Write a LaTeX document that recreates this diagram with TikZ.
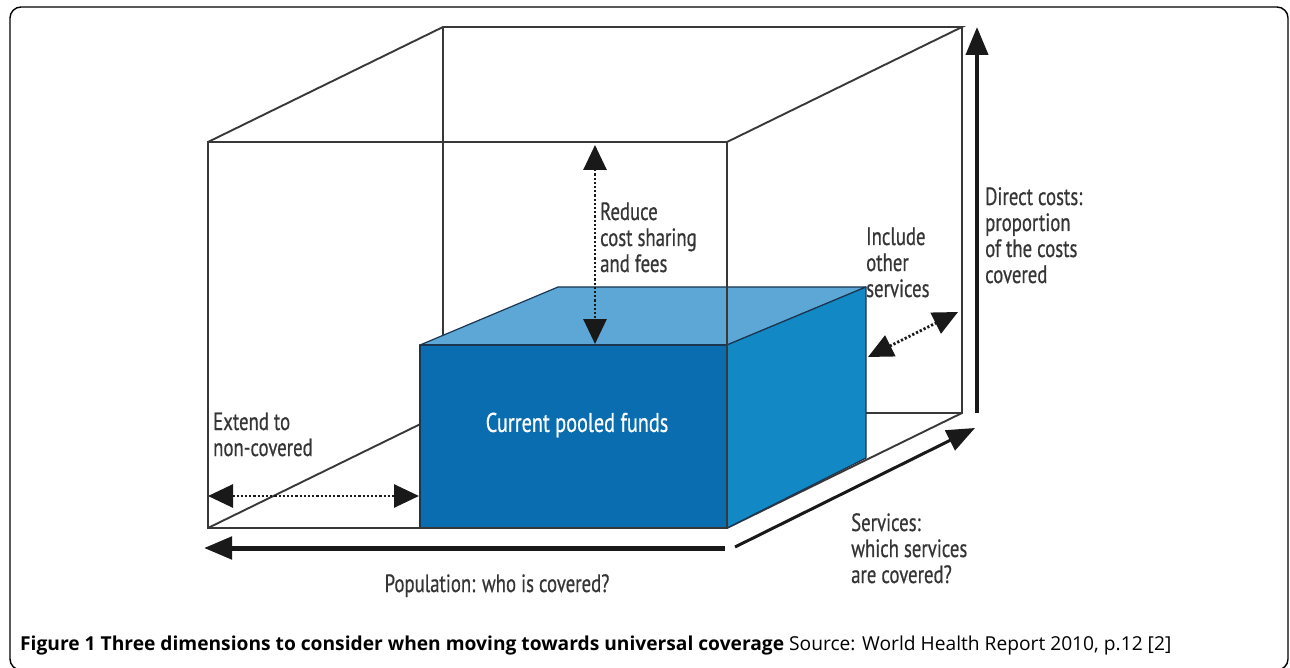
\documentclass[tikz,border=0pt]{standalone}
\usepackage{fontspec}
\setmainfont{Open Sans}
\newfontfamily\labelfont[FakeStretch=0.75,FakeBold=0.6]{PT Sans}
\usepackage{xcolor}
\usetikzlibrary{arrows.meta,positioning,calc}

\definecolor{boxfront}{HTML}{0A6DAF}
\definecolor{boxside}{HTML}{1289C5}
\definecolor{boxtop}{HTML}{5CA7D6}
\definecolor{edgedark}{HTML}{1C3550}
\definecolor{labelgrey}{HTML}{353535}

\tikzset{
  wire/.style={draw=black!78, line width=1.9pt},
  face/.style={draw=edgedark, line width=1.2pt, line join=round},
  bigarrow/.style={draw=black!90, line width=4pt, -{Triangle[length=28pt,width=22pt]}},
  dotarrow/.style={draw=black!90, line width=2.8pt, dash pattern=on 2.2pt off 2pt,
    {Triangle[length=25pt,width=23pt]}-{Triangle[length=25pt,width=23pt]}},
  lbl/.style={font=\labelfont\fontsize{25}{26}\selectfont, text=labelgrey,
    align=left, inner sep=0pt, anchor=base west}
}

\begin{document}
\begin{tikzpicture}[x=1pt,y=-1pt]
  \useasboundingbox (0,0) rectangle (1290,668);

  % Outer frame
  \draw[line width=1.4pt, rounded corners=11pt] (10,7) rectangle (1288,670);

  % Corners of the coverage cube
  \coordinate (b1) at (443,27);
  \coordinate (b2) at (962,27);
  \coordinate (b3) at (962,413);
  \coordinate (b4) at (443,413);
  \coordinate (f1) at (208,142);
  \coordinate (f2) at (727,142);
  \coordinate (f3) at (727,528);
  \coordinate (f4) at (208,528);

  % Corners of the pooled funds block
  \coordinate (p1) at (420,345);
  \coordinate (p2) at (727,345);
  \coordinate (p3) at (727,528);
  \coordinate (p4) at (420,528);
  \coordinate (q1) at (558,287);
  \coordinate (q2) at (866,287);
  \coordinate (q3) at (866,458);

  % Back edges of the cube
  \draw[wire] (f1) -- (b1) -- (b2) -- (f2);
  \draw[wire] (b1) -- (b4) -- (b3) -- (b2);
  \draw[wire] (f4) -- (b4);
  \draw[wire] (f3) -- (b3);

  % Current pooled funds
  \filldraw[face, fill=boxtop] (p1) -- (q1) -- (q2) -- (p2) -- cycle;
  \filldraw[face, fill=boxside] (p2) -- (q2) -- (q3) -- (p3) -- cycle;
  \filldraw[face, fill=boxfront] (p1) rectangle (p3);
  \node[font=\labelfont\fontsize{27}{28}\selectfont, text=white] (pooled) at (577,425) {Current pooled funds};

  % Front face of the cube
  \draw[wire] (f1) rectangle (f3);

  % Axis arrows
  \coordinate (costlo) at (977,413);
  \coordinate (costhi) at (977,27);
  \coordinate (servlo) at (735,547);
  \coordinate (servhi) at (975,428);
  \coordinate (popr) at (725,548);
  \coordinate (popl) at (204,548);
  \draw[bigarrow] (costlo) -- (costhi);
  \draw[bigarrow, line width=3pt] (servlo) -- (servhi);
  \draw[bigarrow, line width=5pt] (popr) -- (popl);

  % Directions of expansion
  \coordinate (extl) at (208,496);
  \coordinate (extr) at (419,496);
  \coordinate (redhi) at (595,145);
  \coordinate (redlo) at (595,344);
  \coordinate (inclo) at (868,357);
  \coordinate (inchi) at (958,312);
  \draw[dotarrow] (extl) -- (extr);
  \draw[dotarrow] (redhi) -- (redlo);
  \draw[dotarrow] (inclo) -- (inchi);

  % Labels (base = last line)
  \node[lbl] (reduce) at (600,272) {Reduce\\cost sharing\\and fees};
  \node[lbl] (include) at (866,297) {Include\\other\\services};
  \node[lbl] (direct) at (985,283) {Direct costs:\\proportion\\of the costs\\covered};
  \node[lbl] (extend) at (213,456) {Extend to\\non-covered};
  \node[lbl] (services) at (851,583) {Services:\\which services\\are covered?};
  \node[lbl, anchor=base] (population) at (497,592) {Population: who is covered?};

  % Caption
  \node[anchor=base west, inner sep=0pt, font=\fontsize{19.2}{21}\selectfont] (caption) at (20,650)
    {\textbf{Figure 1 Three dimensions to consider when moving towards universal coverage} Source: World Health Report 2010, p.12 [2]};
\end{tikzpicture}
\end{document}
